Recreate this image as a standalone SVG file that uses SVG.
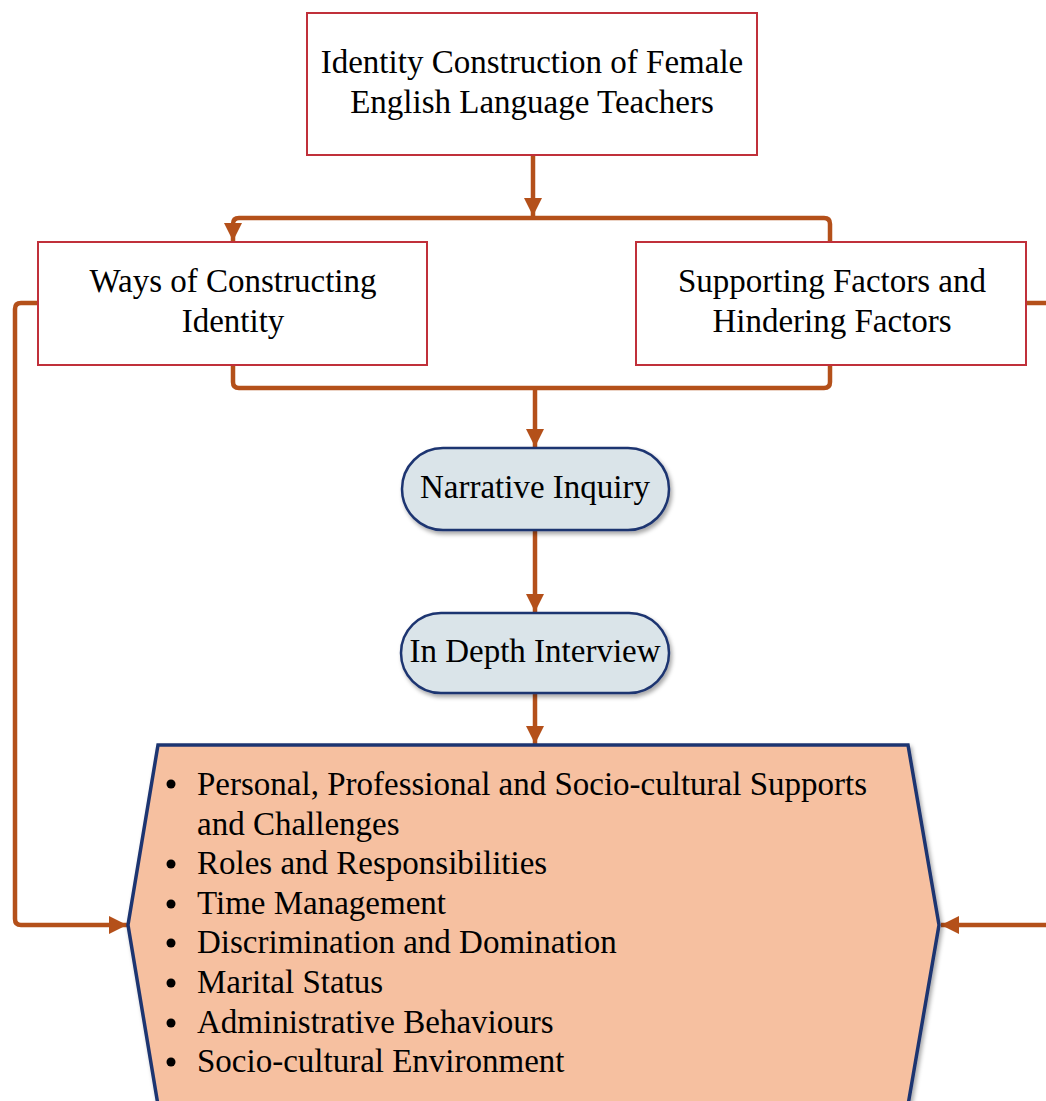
<svg xmlns="http://www.w3.org/2000/svg" width="1046" height="1101" viewBox="0 0 1046 1101">
<style>
  .box { fill: #ffffff; stroke: #c0303a; stroke-width: 2; }
  .pill { fill: #dae4e9; stroke: #1f3571; stroke-width: 2.5; filter: url(#sh); }
  .hex { fill: #f6c0a0; stroke: #1f3571; stroke-width: 3.5; filter: url(#sh); }
  .t { font-family: "Liberation Serif", "Times New Roman", serif; font-size: 33px; fill: #000; }
  .c { text-anchor: middle; }
  .conn { fill: none; stroke: #b4501a; stroke-width: 4.5; }
</style>
<defs>
  <marker id="ah" markerUnits="userSpaceOnUse" markerWidth="20" markerHeight="20" refX="18" refY="9" orient="auto">
    <path d="M0,0 L18,9 L0,18 Z" fill="#b4501a"/>
  </marker>
  <filter id="sh" x="-10%" y="-10%" width="125%" height="130%">
    <feDropShadow dx="2" dy="3" stdDeviation="2" flood-color="#000" flood-opacity="0.35"/>
  </filter>
</defs>

<g id="connectors">
  <path class="conn" d="M533 155 V216" marker-end="url(#ah)"/>
  <path class="conn" d="M830 242 V224 Q830 218 824 218 H239 Q233 218 233 224 V241" marker-end="url(#ah)"/>
  <path class="conn" d="M233 365 V382 Q233 388 239 388 H824 Q830 388 830 382 V365"/>
  <path class="conn" d="M535 388 V447" marker-end="url(#ah)"/>
  <path class="conn" d="M535 530 V612" marker-end="url(#ah)"/>
  <path class="conn" d="M535 693 V744" marker-end="url(#ah)"/>
  <path class="conn" d="M38 303 H21 Q15 303 15 309 V919 Q15 925 21 925 H127" marker-end="url(#ah)"/>
  <path class="conn" d="M1026 303 H1050"/>
  <path class="conn" d="M1050 925 H941" marker-end="url(#ah)"/>
</g>

<g id="node-identity">
  <rect class="box" x="307" y="13" width="450" height="142"/>
  <text class="t c" x="532" y="73">Identity Construction of Female</text>
  <text class="t c" x="532" y="113">English Language Teachers</text>
</g>

<g id="node-ways">
  <rect class="box" x="38" y="242" width="389" height="123"/>
  <text class="t c" x="233" y="292">Ways of Constructing</text>
  <text class="t c" x="233" y="332">Identity</text>
</g>

<g id="node-factors">
  <rect class="box" x="636" y="242" width="390" height="123"/>
  <text class="t c" x="832" y="292">Supporting Factors and</text>
  <text class="t c" x="832" y="332">Hindering Factors</text>
</g>

<g id="node-narrative">
  <rect class="pill" x="402" y="448" width="267" height="82" rx="41" ry="41"/>
  <text class="t c" x="535" y="498">Narrative Inquiry</text>
</g>

<g id="node-interview">
  <rect class="pill" x="401" y="613" width="268" height="80" rx="40" ry="40"/>
  <text class="t c" x="535" y="662">In Depth Interview</text>
</g>

<g id="node-themes">
  <polygon class="hex" points="158,745 908,745 939,925 908,1105 158,1105 128,925"/>
  <g fill="#000">
    <circle cx="171" cy="784" r="4.5"/>
    <circle cx="171" cy="864" r="4.5"/>
    <circle cx="171" cy="904" r="4.5"/>
    <circle cx="171" cy="943" r="4.5"/>
    <circle cx="171" cy="983" r="4.5"/>
    <circle cx="171" cy="1023" r="4.5"/>
    <circle cx="171" cy="1062" r="4.5"/>
  </g>
  <text class="t" x="197" y="795">Personal, Professional and Socio-cultural Supports</text>
  <text class="t" x="197" y="835">and Challenges</text>
  <text class="t" x="197" y="874">Roles and Responsibilities</text>
  <text class="t" x="197" y="914">Time Management</text>
  <text class="t" x="197" y="953">Discrimination and Domination</text>
  <text class="t" x="197" y="993">Marital Status</text>
  <text class="t" x="197" y="1033">Administrative Behaviours</text>
  <text class="t" x="197" y="1072">Socio-cultural Environment</text>
</g>
</svg>
